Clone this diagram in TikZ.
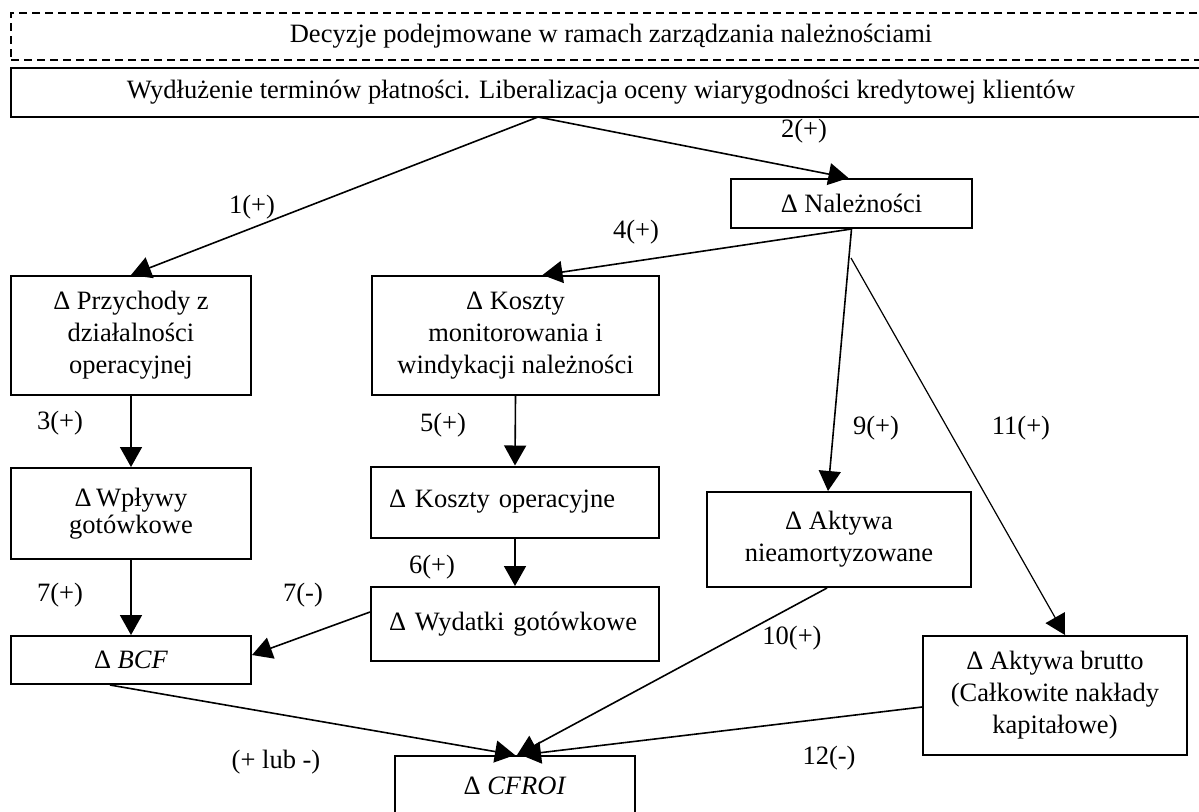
\documentclass[tikz,border=0pt]{standalone}
\usepackage{fontspec}
\setmainfont{Liberation Serif}
\usetikzlibrary{arrows.meta}

\begin{document}
\begin{tikzpicture}[x=0.5pt,y=-0.5pt,font=\fontsize{13.25}{16}\selectfont,
        pil/.style={thick,-{Triangle[length=10pt,width=11pt]}}]
    \useasboundingbox (0,0) rectangle (1199,811);

    \begin{scope}[every node/.style={draw,line width=1pt,align=center,
                    inner sep=0pt}]
        \node[dash pattern=on 4pt off 2.5pt,line width=0.6pt,minimum width=600pt,
              minimum height=23.5pt] (dec) at (611,36.5)
            {Decyzje podejmowane w ramach zarządzania należnościami};
        \node[minimum width=600pt,minimum height=24.5pt] (lib) at (611,92.5)
            {Wydłużenie terminów płatności. Liberalizacja oceny wiarygodności kredytowej klientów\hspace*{10pt}};
        \node[minimum width=120.5pt,minimum height=24.5pt] (nal) at (851.5,203.5) {Δ Należności};
        \node[minimum width=120pt,minimum height=59.5pt] (prz) at (131,335.5)
            {Δ Przychody z\\działalności\\operacyjnej};
        \node[minimum width=143.5pt,minimum height=59.5pt] (kosm) at (515.5,335.5)
            {Δ Koszty\\monitorowania i\\windykacji należności};
        \node[minimum width=120pt,minimum height=45.5pt,
              font=\fontsize{13.25}{13.5}\selectfont] (wpl) at (131,513.5)
            {Δ\,Wpływy\\gotówkowe};
        \node[minimum height=35.5pt,align=left,text width=126pt,inner xsep=9pt] (kop) at (515,502)
            {\mbox{Δ Koszty operacyjne}};
        \node[minimum height=37pt,align=left,text width=126pt,inner xsep=9pt] (wyd) at (515,624)
            {\mbox{Δ Wydatki gotówkowe}};
        \node[minimum width=120pt,minimum height=24pt] (bcf) at (131,660) {Δ \textit{BCF}};
        \node[minimum width=132pt,minimum height=47.5pt] (akn) at (839,539.5)
            {Δ Aktywa\\nieamortyzowane};
        \node[minimum width=132pt,minimum height=59.5pt] (akb) at (1055,695.5)
            {Δ Aktywa brutto\\(Całkowite nakłady\\kapitałowe)};
        \node[minimum width=120pt,minimum height=30pt] (cfroi) at (515,786) {Δ \textit{CFROI}};
    \end{scope}

    \begin{scope}[every node/.style={inner sep=0pt}]
        \node (n1) at (252,207) {1(+)};
        \node (n2) at (804,131) {2(+)};
        \node (n3) at (60,423) {3(+)};
        \node (n4) at (636,232) {4(+)};
        \node (n5) at (443,425) {5(+)};
        \node (n6) at (432,567) {6(+)};
        \node (n7a) at (60,595) {7(+)};
        \node (n7b) at (303,595) {7(-)};
        \node (n9) at (876,428) {9(+)};
        \node (n10) at (792,638) {10(+)};
        \node (n11) at (1021,428) {11(+)};
        \node (n12) at (829,758) {12(-)};
        \node (nlub) at (276,762) {(+ lub -)};
    \end{scope}

    \coordinate (spl) at (538,117);
    \coordinate (br) at (851,258);

    \path (spl) edge[pil] (prz.north);
    \path (spl) edge[pil] ([xshift=-1.5pt]nal.north);
    \path (nal.south) edge[pil] ([xshift=13.5pt]kosm.north);
    \path (nal.south) edge[pil] ([xshift=-5.5pt]akn.north);
    \path (br) edge[pil,line width=0.6pt] ([xshift=5pt]akb.north);
    \path (prz.south) edge[pil] (wpl.north);
    \path (kosm.south) edge[pil] (kop.north);
    \path (kop.south) edge[pil] (wyd.north);
    \path (wpl.south) edge[pil] (bcf.north);
    \path ([yshift=6pt]wyd.west) edge[pil] ([yshift=2.5pt]bcf.east);
    \path ([xshift=-10.5pt]bcf.south) edge[pil] (cfroi.north);
    \path ([xshift=-6pt]akn.south) edge[pil] ([xshift=1pt]cfroi.north);
    \path ([yshift=-5.75pt]akb.west) edge[pil] ([xshift=3pt]cfroi.north);
\end{tikzpicture}
\end{document}
